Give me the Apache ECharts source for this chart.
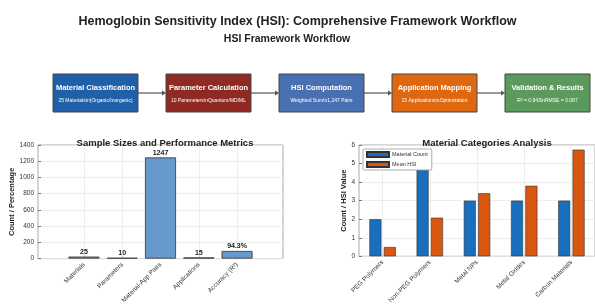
<!DOCTYPE html>
<html>
<head>
<meta charset="utf-8">
<script src="https://cdn.jsdelivr.net/npm/echarts@6/dist/echarts.min.js"></script>
<style>
  html, body { margin: 0; padding: 0; background: #fff; }
  #main { width: 595px; height: 306px; }
</style>
</head>
<body>
<div id="main"></div>
<script>
  // workflow steps
  var stepTitles = ['Material Classification', 'Parameter Calculation', 'HSI Computation', 'Application Mapping', 'Validation & Results']
  var stepDetails = ['25 Materials\\n(Organic/Inorganic)', '10 Parameters\\nQuantum/MD/ML', 'Weighted Sum\\n1,247 Pairs', '15 Applications\\nOptimization', 'R\u00b2 = 0.943\\nRMSE = 0.087']
  var stepColors = ['#1f60a8', '#8e2a22', '#4a70b4', '#de6710', '#5b9a5c']

  // left panel
  var metricNames = ['Materials', 'Parameters', 'Material-App Pairs', 'Applications', 'Accuracy (R\u00b2)']
  var metricValues = [25, 10, 1247, 15, 94.3]
  var metricLabels = ['25', '10', '1247', '15', '94.3%']

  // right panel
  var categoryNames = ['PEG Polymers', 'Non-PEG Polymers', 'Metal NPs', 'Metal Oxides', 'Carbon Materials']
  var materialCount = [2, 5, 3, 3, 3]
  var meanHsi = [0.5, 2.08, 3.4, 3.8, 5.75]

  var font = 'Liberation Sans, Arial, sans-serif'
  var idx = [0, 1, 2, 3, 4]

  function frameAxisX (gridIndex, names, min, max) {
    return {
      type: 'value', gridIndex: gridIndex, min: min, max: max,
      axisLine: {show: false, onZero: false},
      axisTick: {show: true, inside: true, length: 3, customValues: idx, lineStyle: {color: '#777'}},
      axisLabel: {
        customValues: idx, rotate: 45, fontSize: 6.5, color: '#333', fontFamily: font, margin: 5,
        formatter: function (v) { return names[Math.round(v)] }
      },
      splitLine: {show: false}
    }
  }

  function frameAxisY (gridIndex, name, max, interval, gap) {
    return {
      type: 'value', gridIndex: gridIndex, min: 0, max: max, interval: interval,
      name: name, nameLocation: 'middle', nameGap: gap,
      nameTextStyle: {fontSize: 7.5, fontWeight: 'bold', color: '#222', fontFamily: font},
      axisLine: {show: false, onZero: false},
      axisTick: {show: true, inside: true, length: 3, lineStyle: {color: '#777'}},
      axisLabel: {fontSize: 6.5, color: '#333', fontFamily: font, margin: 4, formatter: function (v) { return String(v) }},
      splitLine: {lineStyle: {color: '#e8e8e8', width: 0.8}}
    }
  }

  // empty helper series carrying vertical grid lines at category centres
  function vGrid (axisIndex) {
    return {
      type: 'scatter', xAxisIndex: axisIndex, yAxisIndex: axisIndex, data: [], z: 1,
      markLine: {
        silent: true, symbol: 'none', label: {show: false}, animation: false, z: 1,
        lineStyle: {color: '#e8e8e8', width: 0.8, type: 'solid'},
        data: idx.map(function (i) { return {xAxis: i} })
      }
    }
  }

  var chart = echarts.init(document.getElementById('main'))
  var option = {
    animation: false,
    backgroundColor: '#fff',
    title: [
      {text: 'Hemoglobin Sensitivity Index (HSI): Comprehensive Framework Workflow', left: 'center', top: 10,
        textStyle: {fontSize: 12.5, fontWeight: 'bold', color: '#222', fontFamily: font}},
      {text: 'HSI Framework Workflow', left: 282, top: 29, textAlign: 'center',
        textStyle: {fontSize: 10.5, fontWeight: 'bold', color: '#222', fontFamily: font}},
      {text: 'Sample Sizes and Performance Metrics', left: 160, top: 133, textAlign: 'center',
        textStyle: {fontSize: 9.5, fontWeight: 'bold', color: '#222', fontFamily: font}},
      {text: 'Material Categories Analysis', left: 482, top: 133, textAlign: 'center',
        textStyle: {fontSize: 9.5, fontWeight: 'bold', color: '#222', fontFamily: font}}
    ],
    legend: {
      data: ['Material Count', 'Mean HSI'],
      orient: 'vertical', left: 363, top: 149,
      icon: 'rect', itemWidth: 22, itemHeight: 5, itemGap: 3,
      padding: [2, 4, 2, 3],
      backgroundColor: '#fff', borderColor: '#999', borderWidth: 0.8, borderRadius: 1,
      textStyle: {fontSize: 5.5, color: '#333', fontFamily: font, padding: [0, 0, 0, -2]}
    },
    grid: [
      {left: 95.5, right: 47.5, top: 74, height: 38},
      {left: 38, right: 312, top: 145, height: 118, show: true, borderColor: '#aaa', borderWidth: 1},
      {left: 359, right: -12, top: 145, height: 118, show: true, borderColor: '#aaa', borderWidth: 1}
    ],
    xAxis: [
      {type: 'value', gridIndex: 0, min: 0, max: 4, show: false},
      frameAxisX(1, metricNames, -1.2, 5.2),
      frameAxisX(2, categoryNames, -0.5, 4.5)
    ],
    yAxis: [
      {type: 'value', gridIndex: 0, min: 0, max: 1, show: false},
      frameAxisY(1, 'Count / Percentage', 1400, 200, 20),
      frameAxisY(2, 'Count / HSI Value', 6, 1, 11)
    ],
    series: [
      {
        type: 'custom', xAxisIndex: 0, yAxisIndex: 0, clip: false,
        data: stepTitles.map(function (t, i) { return [i] }),
        renderItem: function (params, api) {
          var i = params.dataIndex
          var c = api.coord([api.value(0), 0.5])
          var s = api.size([0.752, 1])
          var w = s[0]
          var h = s[1]
          var children = [
            {type: 'rect', shape: {x: c[0] - w / 2, y: c[1] - h / 2, width: w, height: h},
              style: {fill: stepColors[i], stroke: '#444', lineWidth: 1}},
            {type: 'text', x: c[0], y: c[1] - 5,
              style: {text: stepTitles[i], fill: '#fff', font: 'bold 7.5px ' + font, align: 'center', verticalAlign: 'middle'}},
            {type: 'text', x: c[0], y: c[1] + 7.5,
              style: {text: stepDetails[i], fill: '#fff', font: '5px ' + font, align: 'center', verticalAlign: 'middle'}}
          ]
          if (i < stepTitles.length - 1) {
            var n = api.coord([api.value(0) + 1, 0.5])
            var x1 = c[0] + w / 2
            var x2 = n[0] - w / 2
            children.push({type: 'line', shape: {x1: x1, y1: c[1], x2: x2 - 3, y2: c[1]},
              style: {stroke: '#555', lineWidth: 1.2}})
            children.push({type: 'polygon', shape: {points: [[x2 - 4, c[1] - 2.5], [x2, c[1]], [x2 - 4, c[1] + 2.5]]},
              style: {fill: '#555'}})
          }
          return {type: 'group', children: children}
        }
      },
      vGrid(1),
      vGrid(2),
      {
        type: 'bar', xAxisIndex: 1, yAxisIndex: 1, barWidth: 31,
        data: metricValues.map(function (v, i) { return [i, v] }),
        itemStyle: {color: '#6699cc', borderColor: '#333', borderWidth: 0.8},
        label: {
          show: true, position: 'top', distance: 1, fontSize: 7, fontWeight: 'bold', color: '#222', fontFamily: font,
          formatter: function (p) { return metricLabels[p.dataIndex] }
        },
        z: 3
      },
      {
        name: 'Material Count', type: 'bar', xAxisIndex: 2, yAxisIndex: 2, barWidth: 12, barGap: '20%',
        data: materialCount.map(function (v, i) { return [i, v] }),
        itemStyle: {color: '#1a6fbd', borderColor: '#333', borderWidth: 0.6},
        z: 3
      },
      {
        name: 'Mean HSI', type: 'bar', xAxisIndex: 2, yAxisIndex: 2, barWidth: 12, barGap: '20%',
        data: meanHsi.map(function (v, i) { return [i, v] }),
        itemStyle: {color: '#d95710', borderColor: '#333', borderWidth: 0.6},
        z: 3
      }
    ]
  }
  chart.setOption(option)
</script>
</body>
</html>
